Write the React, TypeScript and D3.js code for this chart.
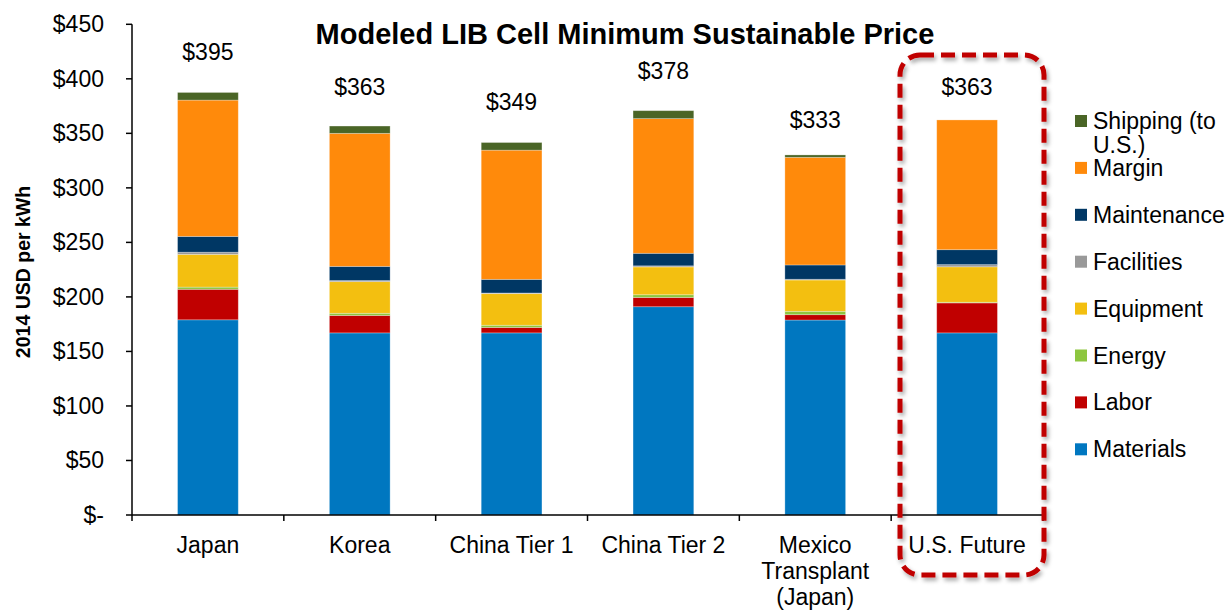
import React from "react";
import * as d3 from "d3";

const categories: string[][] = [
  ["Japan"],
  ["Korea"],
  ["China Tier 1"],
  ["China Tier 2"],
  ["Mexico", "Transplant", "(Japan)"],
  ["U.S. Future"],
];
const materials = [179, 167, 167, 191, 178.8, 167];
const labor = [28, 16, 5, 8.5, 4.9, 27.5];
const energy = [2, 2, 2, 2.5, 3.1, 0.6];
const equipment = [30, 29, 29, 25.5, 28.7, 32.5];
const facilities = [2, 1, 0.6, 1, 0.7, 2];
const maintenance = [14.5, 13, 12.5, 11.5, 13.1, 13.7];
const margin = [125, 122, 118.5, 123.5, 98.7, 119];
const shipping = [7, 6.7, 7, 7.3, 2.2, 0];
const totalLabels = [395, 363, 349, 378, 333, 363];
const yTicks = [0, 50, 100, 150, 200, 250, 300, 350, 400, 450];

const seriesNames = ["Materials", "Labor", "Energy", "Equipment", "Facilities", "Maintenance", "Margin", "Shipping (to U.S.)"];
const seriesValues = [materials, labor, energy, equipment, facilities, maintenance, margin, shipping];
const seriesColors = ["#0077C0", "#C00000", "#8DC63F", "#F3BF10", "#999999", "#003764", "#FF8A0B", "#4A6526"];

const W = 1232;
const H = 612;
const FONT = "'Liberation Sans', Arial, sans-serif";
const FS = 23;

export default function App() {
  const x = d3.scaleBand<number>().domain(d3.range(categories.length)).range([132, 1043]).paddingInner(0.6).paddingOuter(0.3);
  const y = d3.scaleLinear().domain([0, 450]).range([515, 24.3]);
  const step = x.step();
  const bounds = d3.range(categories.length + 1).map((i) => 132 + i * ((1043 - 132) / categories.length));

  const stacked = categories.map((_, ci) => {
    let acc = 0;
    return seriesValues.map((vals, si) => {
      const y0 = acc;
      acc += vals[ci];
      return { si, y0, y1: acc };
    });
  });

  const legendOrder = [7, 6, 5, 4, 3, 2, 1, 0];

  return (
    <svg width={W} height={H} style={{ position: "absolute", left: 0, top: 0, background: "#fff" }} fontFamily={FONT}>
      <defs>
        <filter id="shadow" x="-10%" y="-10%" width="120%" height="120%">
          <feDropShadow dx="2" dy="3" stdDeviation="2" floodColor="#000" floodOpacity="0.35" />
        </filter>
      </defs>
      <rect width={W} height={H} fill="#fff" />
      {stacked.map((segs, ci) =>
        segs.map((s) =>
          s.y1 - s.y0 > 0 ? (
            <rect
              key={`${ci}-${s.si}`}
              x={x(ci)!}
              width={x.bandwidth()}
              y={y(s.y1)}
              height={y(s.y0) - y(s.y1)}
              fill={seriesColors[s.si]}
              stroke="#ffffff"
              strokeOpacity={0.35}
              strokeWidth={0.8}
            />
          ) : null
        )
      )}
      {totalLabels.map((v, ci) => (
        <text key={`tl${ci}`} x={x(ci)! + x.bandwidth() / 2} y={y(v) - 24} textAnchor="middle" fontSize={FS} fill="#000">
          {`$${v}`}
        </text>
      ))}
      <line x1={132} x2={132} y1={y(450)} y2={y(0)} stroke="#000" strokeWidth={1.5} />
      <line x1={132} x2={1043} y1={y(0)} y2={y(0)} stroke="#000" strokeWidth={1.5} />
      {yTicks.map((t) => (
        <g key={`yt${t}`}>
          <line x1={126} x2={132} y1={y(t)} y2={y(t)} stroke="#000" strokeWidth={1.5} />
          <text x={104} y={y(t) + 8} textAnchor="end" fontSize={FS} fill="#000">
            {t === 0 ? "$-" : `$${t}`}
          </text>
        </g>
      ))}
      {bounds.map((b, i) => (
        <line key={`xt${i}`} x1={b} x2={b} y1={y(0)} y2={y(0) + 6} stroke="#000" strokeWidth={1.5} />
      ))}
      {categories.map((lines, ci) => (
        <text key={`xl${ci}`} textAnchor="middle" fontSize={FS} fill="#000">
          {lines.map((ln, li) => (
            <tspan key={li} x={bounds[ci] + step / 2} y={553 + li * 26}>
              {ln}
            </tspan>
          ))}
        </text>
      ))}
      <text transform={`translate(30,272) rotate(-90)`} textAnchor="middle" fontSize={19.5} fontWeight="bold" fill="#000">
        2014 USD per kWh
      </text>
      <text x={625} y={44} textAnchor="middle" fontSize={29} fontWeight="bold" fill="#000">
        Modeled LIB Cell Minimum Sustainable Price
      </text>
      {legendOrder.map((si, k) => {
        const cy = 121 + k * 46.9;
        const name = seriesNames[si];
        const lines = si === 7 ? ["Shipping (to", "U.S.)"] : [name];
        return (
          <g key={`lg${si}`}>
            <rect x={1075} y={cy - 6} width={12} height={12} fill={seriesColors[si]} />
            <text fontSize={FS} fill="#000">
              {lines.map((ln, li) => (
                <tspan key={li} x={1093} y={cy + 8 + li * 24}>
                  {ln}
                </tspan>
              ))}
            </text>
          </g>
        );
      })}
      <rect
        x={900}
        y={55}
        width={144}
        height={520}
        rx={20}
        ry={20}
        fill="none"
        stroke="#C00000"
        strokeWidth={5}
        strokeDasharray="14 7"
        filter="url(#shadow)"
      />
    </svg>
  );
}
